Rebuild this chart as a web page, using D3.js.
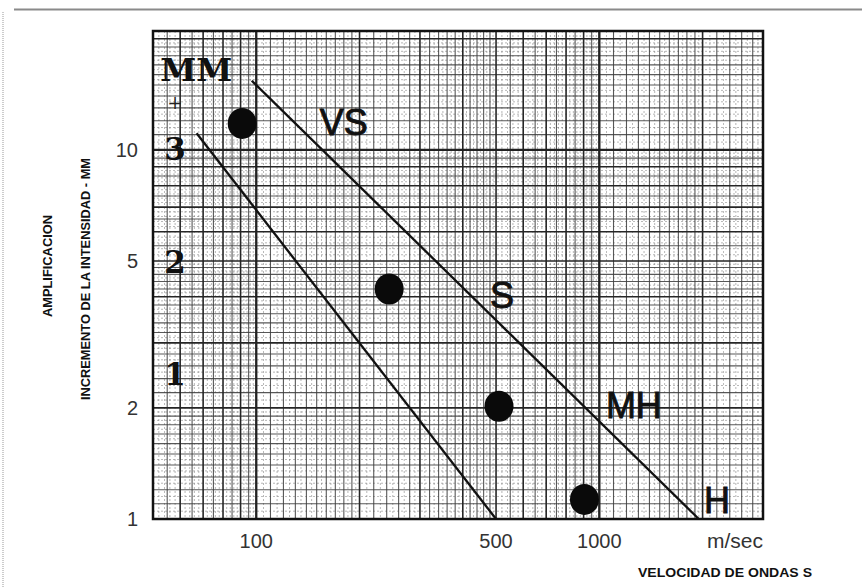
<!DOCTYPE html>
<html><head><meta charset="utf-8">
<script src="https://cdn.jsdelivr.net/npm/d3@7"></script>
<style>body{margin:0;background:#fff}svg{display:block}</style>
</head><body>
<svg id="c" width="865" height="588"></svg>
<script>
// ---- data ----
const xTicks = [100, 500, 1000];
const yTicks = [1, 2, 5, 10];
const lineLow = [[67, 11.1], [500, 1]];
const lineHigh = [[97, 15.4], [1950, 1]];
const points = [[91, 11.8], [244, 4.2], [510, 2.02], [905, 1.13]];
const intensityLabels = [["3", 58, 9.4], ["2", 58, 4.64], ["1", 58, 2.31]];
const zoneLabels = [["VS", 153, 11.0], ["S", 480, 3.73], ["MH", 1045, 1.878], ["H", 2020, 1.038]];
// graph-paper subdivisions within a decade
const paperFine = [1.05,1.15,1.25,1.35,1.45,1.55,1.65,1.75,1.85,1.95,
  2.1,2.3,2.5,2.7,2.9,3.1,3.3,3.5,3.7,3.9,4.1,4.3,4.5,4.7,4.9,
  5.2,5.4,5.6,5.8,6.2,6.4,6.6,6.8,7.2,7.4,7.6,7.8,8.2,8.4,8.6,8.8,9.2,9.4,9.6,9.8];
const paperMid = [1.1,1.2,1.3,1.4,1.5,1.6,1.7,1.8,1.9,2.2,2.4,2.6,2.8,3.2,3.4,3.6,3.8,4.2,4.4,4.6,4.8,5.5,6.5,7.5,8.5,9.5];
const paperMajor = [1,2,3,4,5,6,7,8,9];

const svg = d3.select("#c");
const L = 153, R = 763, T = 31, B = 519;
const x = d3.scaleLog().domain([50, 3000]).range([L, R]);
const y = d3.scaleLog().domain([1, 21]).range([B, T]);

// page decorations
svg.append("line").attr("x1",14).attr("x2",862).attr("y1",9.5).attr("y2",9.5)
  .attr("stroke","#8a8a8a").attr("stroke-width",2);
svg.append("line").attr("x1",3).attr("x2",3).attr("y1",12).attr("y2",588)
  .attr("stroke","#999").attr("stroke-width",1).attr("stroke-dasharray","1,1");

const g = svg.append("g");
function vals(domain, list){
  const out=[];
  for (let d=1; d<=1000; d*=10){
    list.forEach(m=>{const v=+(m*d).toPrecision(6); if(v>domain[0]&&v<domain[1]) out.push(v);});
  }
  return out;
}
const grid = g.append("g");
function drawGrid(list, color, width, op, dash){
  grid.append("g").selectAll("line").data(vals(x.domain(), list)).join("line")
    .attr("x1",d=>x(d)).attr("x2",d=>x(d)).attr("y1",T).attr("y2",B)
    .attr("stroke",color).attr("stroke-width",width).attr("opacity",op).attr("stroke-dasharray",dash||null);
  grid.append("g").selectAll("line").data(vals(y.domain(), list)).join("line")
    .attr("y1",d=>y(d)).attr("y2",d=>y(d)).attr("x1",L).attr("x2",R)
    .attr("stroke",color).attr("stroke-width",width).attr("opacity",op).attr("stroke-dasharray",dash||null);
}
drawGrid(paperFine, "#6a6a6a", 0.8, 0.6, "2,2");
drawGrid(paperMid, "#3c3c3c", 1.1, 0.85);
drawGrid(paperMajor, "#262626", 1.6, 1);
grid.append("g").selectAll("line").data([100,1000]).join("line")
  .attr("x1",d=>x(d)).attr("x2",d=>x(d)).attr("y1",T).attr("y2",B).attr("stroke","#222").attr("stroke-width",2.2);
grid.append("line").attr("x1",L).attr("x2",R).attr("y1",y(10)).attr("y2",y(10)).attr("stroke","#222").attr("stroke-width",2.2);

g.append("rect").attr("x",L).attr("y",T).attr("width",R-L).attr("height",B-T)
  .attr("fill","none").attr("stroke","#111").attr("stroke-width",2.5);

// lines
const line = d3.line().x(d=>x(d[0])).y(d=>y(d[1]));
[lineLow, lineHigh].forEach(l=>{
  g.append("path").attr("d",line(l)).attr("fill","none").attr("stroke","#111").attr("stroke-width",2.3);
});
// points
g.selectAll(".pt").data(points).join("ellipse")
  .attr("cx",d=>x(d[0])).attr("cy",d=>y(d[1])).attr("rx",14.5).attr("ry",15.5).attr("fill","#0a0a0a");

// intensity labels (serif)
const serif = "'DejaVu Serif', 'Liberation Serif', serif";
g.append("text").attr("x",x(52.5)).attr("y",y(15.4)).text("MM")
  .attr("font-family",serif).attr("font-weight","bold").attr("font-size",31)
  .attr("textLength",72).attr("lengthAdjust","spacingAndGlyphs").attr("fill","#111");
g.append("text").attr("x",x(58)).attr("y",y(12.9)).text("+")
  .attr("font-family",serif).attr("font-size",18).attr("text-anchor","middle").attr("fill","#222");
g.selectAll(".il").data(intensityLabels).join("text")
  .attr("x",d=>x(d[1])).attr("y",d=>y(d[2])).text(d=>d[0])
  .attr("font-family",serif).attr("font-weight","bold").attr("font-size",31)
  .attr("text-anchor","middle").attr("fill","#111");

// zone labels (sans)
g.selectAll(".zl").data(zoneLabels).join("text")
  .attr("x",d=>x(d[1])).attr("y",d=>y(d[2])).text(d=>d[0])
  .attr("font-family","'Liberation Sans', Arial, sans-serif").attr("font-size",36)
  .attr("stroke","#111").attr("stroke-width",0.9).attr("fill","#111");

// tick labels
const sans = "'Liberation Sans', Arial, sans-serif";
svg.selectAll(".yt").data(yTicks).join("text")
  .attr("x",138).attr("y",d=>y(d)+7).attr("text-anchor","end").text(d=>d)
  .attr("font-family",sans).attr("font-size",20).attr("fill","#333");
svg.selectAll(".xt").data(xTicks).join("text")
  .attr("x",d=>x(d)).attr("y",548).attr("text-anchor","middle").text(d=>d)
  .attr("font-family",sans).attr("font-size",20).attr("fill","#333");
svg.append("text").attr("x",735).attr("y",548).attr("text-anchor","middle").text("m/sec")
  .attr("font-family",sans).attr("font-size",21).attr("fill","#333");

// axis titles
svg.append("text").attr("transform","translate(52,266) rotate(-90)").attr("text-anchor","middle")
  .text("AMPLIFICACION").attr("font-family",sans).attr("font-weight","bold").attr("font-size",13)
  .attr("textLength",102).attr("lengthAdjust","spacingAndGlyphs").attr("fill","#111");
svg.append("text").attr("transform","translate(90,279) rotate(-90)").attr("text-anchor","middle")
  .text("INCREMENTO DE LA INTENSIDAD - MM").attr("font-family",sans).attr("font-weight","bold").attr("font-size",13)
  .attr("textLength",242).attr("lengthAdjust","spacingAndGlyphs").attr("fill","#111");
svg.append("text").attr("x",638).attr("y",577)
  .text("VELOCIDAD DE ONDAS S").attr("font-family",sans).attr("font-weight","bold").attr("font-size",13)
  .attr("textLength",174).attr("lengthAdjust","spacingAndGlyphs").attr("fill","#111");
</script>
</body></html>
